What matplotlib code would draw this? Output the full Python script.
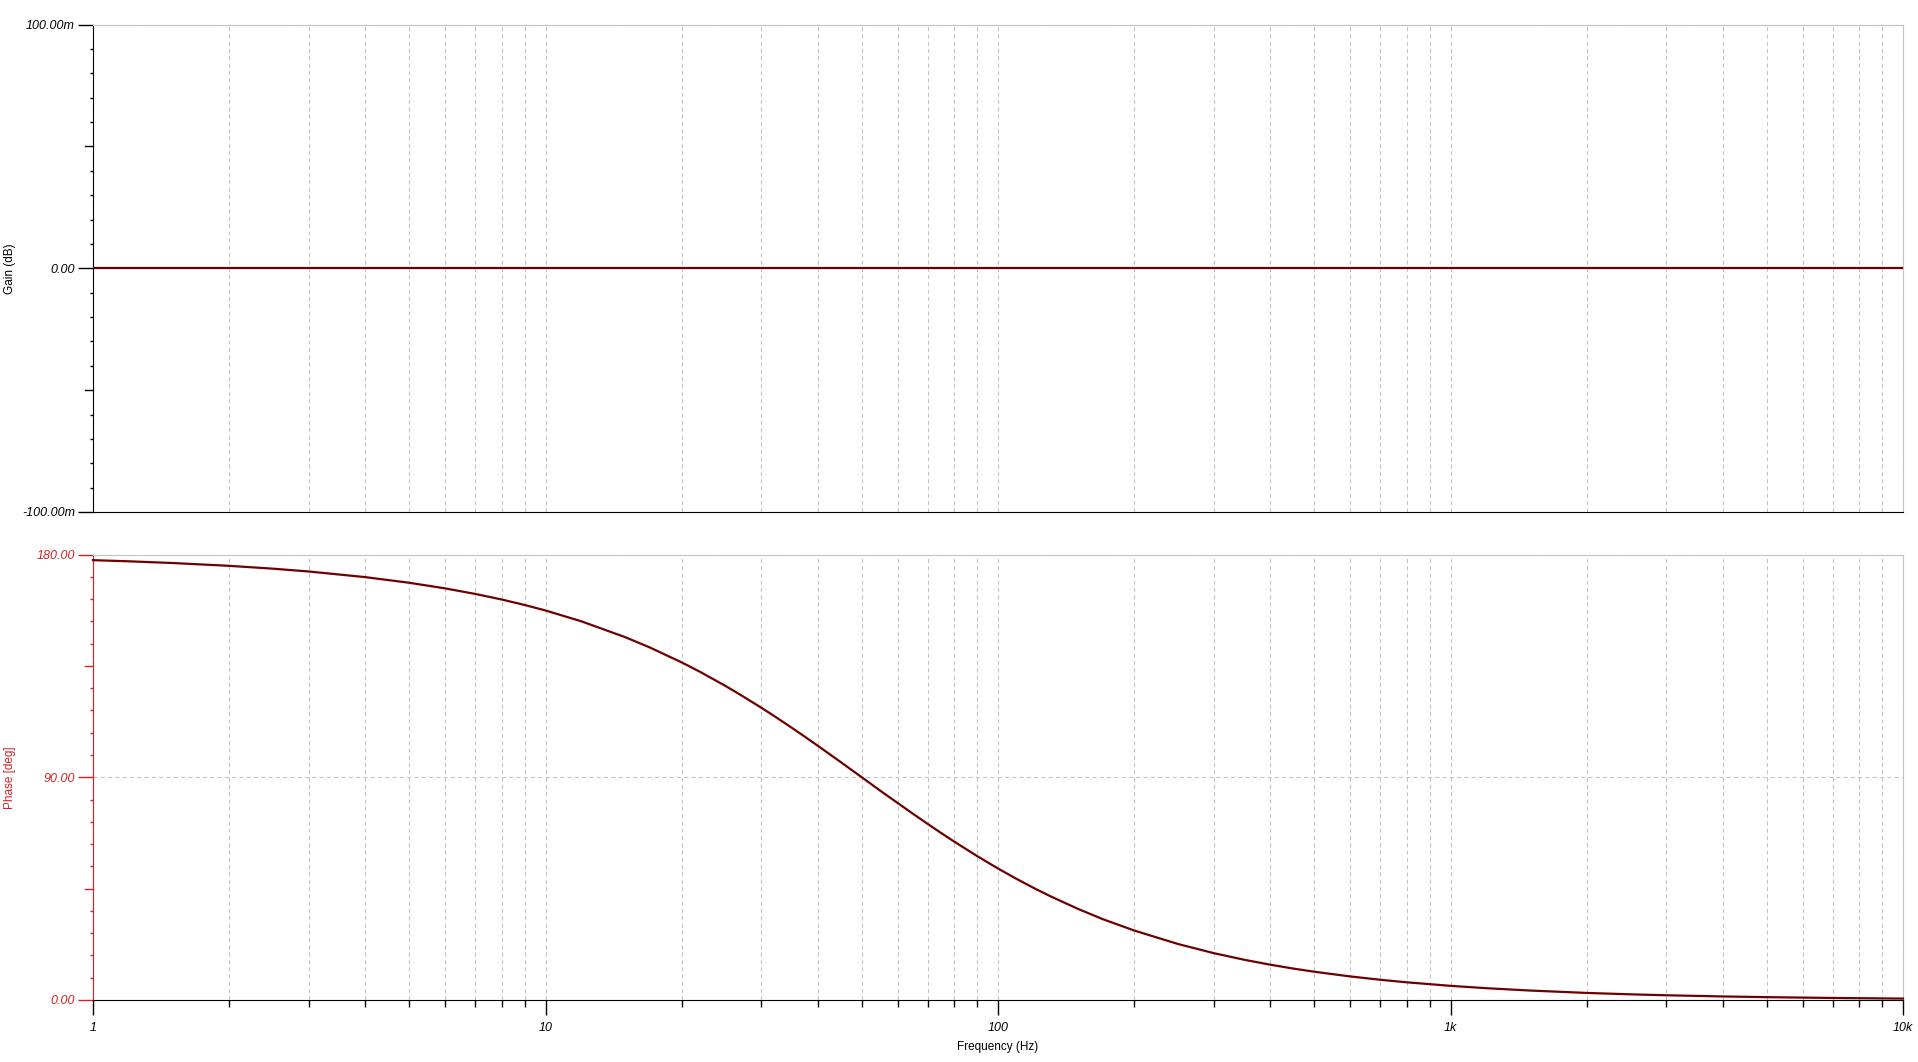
import matplotlib
matplotlib.use("Agg")
import matplotlib.pyplot as plt
from matplotlib.ticker import FixedLocator, NullFormatter
from matplotlib.lines import Line2D

# --- data (all-pass response) ---
freq_hz = [1, 1.2, 1.5, 2, 2.5, 3, 4, 5, 6, 7, 8, 9, 10, 12, 15, 17, 20, 22,
           25, 27, 30, 32, 35, 37, 40, 42, 45, 47, 50, 55, 60, 65, 70, 75, 80,
           90, 100, 110, 120, 130, 150, 170, 200, 250, 300, 350, 400, 450, 500,
           600, 700, 800, 1000, 1200, 1500, 2000, 2500, 3000, 4000, 5000, 7000,
           10000]
phase_deg = [177.71, 177.25, 176.56, 175.42, 174.27, 173.13, 170.85, 168.58,
             166.31, 164.06, 161.82, 159.59, 157.38, 153.01, 146.60, 142.45,
             136.40, 132.51, 126.87, 123.25, 118.07, 114.76, 110.02, 107.00,
             102.68, 99.92, 96.03, 93.53, 90.00, 84.48, 79.61, 75.14, 71.08,
             67.38, 64.01, 58.11, 53.13, 48.89, 45.24, 42.08, 36.87, 32.74,
             28.07, 22.62, 18.92, 16.26, 14.25, 12.68, 11.42, 9.53, 8.17, 7.15,
             5.72, 4.77, 3.82, 2.86, 2.29, 1.91, 1.43, 1.15, 0.82, 0.57]
gain_freq = [1, 10000]
gain_db = [0.0, 0.0]

x_ticks = [1, 10, 100, 1000, 10000]
x_labels = ["1", "10", "100", "1k", "10k"]
gain_ticks = [-0.1, 0.0, 0.1]
gain_labels = ["-100.00m", "0.00", "100.00m"]
phase_ticks = [0, 90, 180]
phase_labels = ["0.00", "90.00", "180.00"]

LINE = "#6e0000"
RED = "#d02222"
GRID = "#c4c4c4"
FONT = "Liberation Sans"

W, H = 1918, 1062
fig = plt.figure(figsize=(W / 100, H / 100), dpi=100)


def px_axes(left, top, right, bottom):
    return fig.add_axes([left / W, 1 - bottom / H, (right - left) / W, (bottom - top) / H])


ax1 = px_axes(93, 24.5, 1903, 512)
ax2 = px_axes(93, 554.5, 1903, 1000)
AX_W = 1903 - 93

minor_x = [m * 10 ** e for e in range(4) for m in range(2, 10)]


def y_ticks(ax, majors, color):
    # 10 subdivisions per major step, with a longer tick at the half step
    step = (majors[1] - majors[0]) / 10
    minors, mids = [], []
    for a in majors[:-1]:
        for k in range(1, 10):
            (mids if k == 5 else minors).append(a + k * step)
    ax.yaxis.set_major_locator(FixedLocator(majors))
    ax.yaxis.set_minor_locator(FixedLocator(minors))
    ax.tick_params(axis="y", which="major", length=11, width=1, pad=2, color=color)
    ax.tick_params(axis="y", which="minor", length=2.2, width=1, color=color)
    for v in mids:
        ax.add_line(Line2D([-8 / AX_W, 0], [v, v], transform=ax.get_yaxis_transform(),
                           color=color, lw=1, clip_on=False))


for ax in (ax1, ax2):
    ax.set_xscale("log")
    ax.set_xlim(1, 10000)
    ax.xaxis.set_major_locator(FixedLocator(x_ticks))
    ax.xaxis.set_minor_locator(FixedLocator(minor_x))
    ax.xaxis.set_minor_formatter(NullFormatter())
    ax.grid(True, which="both", axis="x", color=GRID, lw=0.75, ls=(0, (4, 3)))
    ax.grid(True, which="major", axis="y", color=GRID, lw=0.75, ls=(0, (4, 3)))
    ax.set_axisbelow(True)
    ax.spines["top"].set_color(GRID)
    ax.spines["right"].set_color(GRID)
    ax.spines["bottom"].set_color("black")
    ax.patch.set_visible(False)

# --- gain panel ---
ax1.plot(gain_freq, gain_db, color=LINE, lw=1.6, zorder=3)
ax1.set_ylim(-0.1, 0.1)
y_ticks(ax1, gain_ticks, "black")
ax1.set_yticklabels(gain_labels, fontsize=9, fontstyle="italic", family=FONT)
ax1.tick_params(axis="x", which="both", length=0, labelbottom=False)
ax1.spines["left"].set_color("black")
ax1.set_ylabel("Gain (dB)", fontsize=8.5, family=FONT)
ax1.yaxis.set_label_coords(-77 / AX_W, 0.5)

# --- phase panel ---
ax2.plot(freq_hz, phase_deg, color=LINE, lw=1.6, zorder=3, clip_on=False)
ax2.set_ylim(0, 180)
y_ticks(ax2, phase_ticks, RED)
ax2.set_yticklabels(phase_labels, fontsize=9, fontstyle="italic", family=FONT, color=RED)
ax2.spines["left"].set_color(RED)
ax2.set_xticklabels(x_labels, fontsize=9, fontstyle="italic", family=FONT)
ax2.tick_params(axis="x", which="major", length=11, width=1, pad=5)
ax2.tick_params(axis="x", which="minor", length=5, width=1)
ax2.set_ylabel("Phase [deg]", fontsize=8.5, family=FONT, color=RED)
ax2.yaxis.set_label_coords(-77 / AX_W, 0.5)
ax2.set_xlabel("Frequency (Hz)", fontsize=8.5, family=FONT, labelpad=5)

fig.savefig("out.png", dpi=100, facecolor="white")
